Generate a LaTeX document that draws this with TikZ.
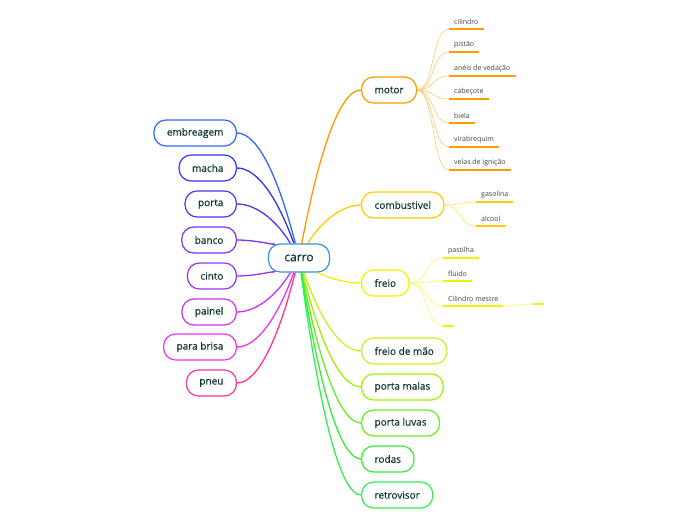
\documentclass[tikz,border=0pt]{standalone}
\usepackage{fontspec}
\setmainfont{Open Sans}
\newfontfamily\topicfont[FakeBold=0.35]{Open Sans}
\usetikzlibrary{calc,backgrounds}

% colours of the map
\definecolor{txtdark}{HTML}{0E3434}
\definecolor{carroblue}{HTML}{3D8FD1}
\definecolor{cmotor}{HTML}{FF9A00}
\definecolor{ccomb}{HTML}{FFCC00}
\definecolor{cfreio}{HTML}{F2F200}
\definecolor{cmao}{HTML}{C8F020}
\definecolor{cmalas}{HTML}{A0F000}
\definecolor{cluvas}{HTML}{66EE22}
\definecolor{crodas}{HTML}{33EE33}
\definecolor{cretro}{HTML}{33EE55}
\definecolor{cembr}{HTML}{3366FF}
\definecolor{cmacha}{HTML}{3333EE}
\definecolor{cporta}{HTML}{5533EE}
\definecolor{cbanco}{HTML}{7733EE}
\definecolor{ccinto}{HTML}{9933EE}
\definecolor{cpainel}{HTML}{CC33EE}
\definecolor{cbrisa}{HTML}{EE33EE}
\definecolor{cpneu}{HTML}{FF3399}

\begin{document}
\begin{tikzpicture}[
        x=1pt, y=-1pt,
        topic/.style={draw, rounded corners=12pt, line width=1.2pt, fill=white, minimum height=26pt, inner xsep=13pt, text=txtdark, font=\topicfont\fontsize{10}{12}\selectfont},
        central/.style={topic, draw=carroblue, rounded corners=12pt, minimum height=28pt, inner xsep=16pt, font=\topicfont\fontsize{12}{14}\selectfont},
        leaf/.style={anchor=south west, inner xsep=5pt, inner ysep=4pt, text=black!75, font=\fontsize{7}{8}\selectfont},
        branch/.style={line width=1.3pt, to path={let \p1=(\tikztostart), \p2=(\tikztotarget) in
            .. controls ({\x1+0.33*(\x2-\x1)},{\y1+0.64*(\y2-\y1)}) and ({\x1+0.66*(\x2-\x1)},\y2) .. (\tikztotarget)}},
        twig/.style={line width=0.6pt, to path={let \p1=(\tikztostart), \p2=(\tikztotarget) in
            .. controls ({\x1+0.55*(\x2-\x1)},\y1) and ({\x1+0.45*(\x2-\x1)},\y2) .. (\tikztotarget)}},
        uline/.style={line width=1.5pt}
    ]
    \useasboundingbox (0,0) rectangle (696,520);

    % central topic
    \node[central] (carro) at (299,258) {carro};

    % right hand topics
    \node[topic, draw=cmotor, anchor=west] (motor) at (361,90) {motor};
    \node[topic, draw=ccomb, anchor=west] (comb) at (361,205) {combustivel};
    \node[topic, draw=cfreio, anchor=west] (freio) at (361,283) {freio};
    \node[topic, draw=cmao, anchor=west] (mao) at (361,351) {freio de mão};
    \node[topic, draw=cmalas, anchor=west] (malas) at (361,387) {porta malas};
    \node[topic, draw=cluvas, anchor=west] (luvas) at (361,423) {porta luvas};
    \node[topic, draw=crodas, anchor=west] (rodas) at (361,459) {rodas};
    \node[topic, draw=cretro, anchor=west] (retro) at (361,495) {retrovisor};

    % left hand topics
    \node[topic, draw=cembr, anchor=east] (embr) at (237,133) {embreagem};
    \node[topic, draw=cmacha, anchor=east] (macha) at (237,168) {macha};
    \node[topic, draw=cporta, anchor=east] (porta) at (237,204) {porta};
    \node[topic, draw=cbanco, anchor=east] (banco) at (237,240) {banco};
    \node[topic, draw=ccinto, anchor=east] (cinto) at (237,276) {cinto};
    \node[topic, draw=cpainel, anchor=east] (painel) at (237,312) {painel};
    \node[topic, draw=cbrisa, anchor=east] (brisa) at (237,347) {para brisa};
    \node[topic, draw=cpneu, anchor=east] (pneu) at (237,383) {pneu};

    % subtopics of motor
    \node[leaf] (cil) at (449,29) {cilindro};
    \node[leaf] (pistao) at (449,52) {pistão};
    \node[leaf] (aneis) at (449,76) {anéis de vedação};
    \node[leaf] (cabec) at (449,99) {cabeçote};
    \node[leaf] (biela) at (449,123) {biela};
    \node[leaf] (vira) at (449,147) {virabrequim};
    \node[leaf] (velas) at (449,170) {velas de ignição};

    % subtopics of combustivel
    \node[leaf] (gas) at (476,202) {gasolina};
    \node[leaf] (alc) at (476,226) {alcool};

    % subtopics of freio
    \node[leaf] (past) at (443,258) {pastilha};
    \node[leaf] (fluido) at (443,281) {fluido};
    \node[leaf] (cmestre) at (443,306) {Cilindro mestre};
    \node[leaf, minimum width=11pt] (vazio) at (443,326) {};
    \node[leaf, minimum width=11pt] (vazio2) at (533,304) {};

    \begin{pgfonlayer}{background}
        % main branches
        \draw[branch, cmotor] (carro) to (motor.west);
        \draw[branch, ccomb] (carro) to (comb.west);
        \draw[branch, cfreio] (carro) to (freio.west);
        \draw[branch, cmao] (carro) to (mao.west);
        \draw[branch, cmalas] (carro) to (malas.west);
        \draw[branch, cluvas] (carro) to (luvas.west);
        \draw[branch, crodas] (carro) to (rodas.west);
        \draw[branch, cretro] (carro) to (retro.west);
        \draw[branch, cembr] (carro) to (embr.east);
        \draw[branch, cmacha] (carro) to (macha.east);
        \draw[branch, cporta] (carro) to (porta.east);
        \draw[branch, cbanco] (carro) to (banco.east);
        \draw[branch, ccinto] (carro) to (cinto.east);
        \draw[branch, cpainel] (carro) to (painel.east);
        \draw[branch, cbrisa] (carro) to (brisa.east);
        \draw[branch, cpneu] (carro) to (pneu.east);
    \end{pgfonlayer}

    % twigs and underlines of motor
    \draw[twig, cmotor!55] (motor.east) to (cil.south west);
    \draw[twig, cmotor!55] (motor.east) to (pistao.south west);
    \draw[twig, cmotor!55] (motor.east) to (aneis.south west);
    \draw[twig, cmotor!55] (motor.east) to (cabec.south west);
    \draw[twig, cmotor!55] (motor.east) to (biela.south west);
    \draw[twig, cmotor!55] (motor.east) to (vira.south west);
    \draw[twig, cmotor!55] (motor.east) to (velas.south west);
    \draw[uline, cmotor] (cil.south west) -- (cil.south east);
    \draw[uline, cmotor] (pistao.south west) -- (pistao.south east);
    \draw[uline, cmotor] (aneis.south west) -- (aneis.south east);
    \draw[uline, cmotor] (cabec.south west) -- (cabec.south east);
    \draw[uline, cmotor] (biela.south west) -- (biela.south east);
    \draw[uline, cmotor] (vira.south west) -- (vira.south east);
    \draw[uline, cmotor] (velas.south west) -- (velas.south east);

    % twigs and underlines of combustivel
    \draw[twig, ccomb!60] (comb.east) to (gas.south west);
    \draw[twig, ccomb!60] (comb.east) to (alc.south west);
    \draw[uline, ccomb] (gas.south west) -- (gas.south east);
    \draw[uline, ccomb] (alc.south west) -- (alc.south east);

    % twigs and underlines of freio
    \draw[twig, cfreio!60] (freio.east) to (past.south west);
    \draw[twig, cfreio!60] (freio.east) to (fluido.south west);
    \draw[twig, cfreio!60] (freio.east) to (cmestre.south west);
    \draw[twig, cfreio!60] (freio.east) to (vazio.south west);
    \draw[twig, cfreio!60] (cmestre.south east) to (vazio2.south west);
    \draw[uline, cfreio] (past.south west) -- (past.south east);
    \draw[uline, cfreio] (fluido.south west) -- (fluido.south east);
    \draw[uline, cfreio] (cmestre.south west) -- (cmestre.south east);
    \draw[uline, cfreio] (vazio.south west) -- (vazio.south east);
    \draw[uline, cfreio] (vazio2.south west) -- (vazio2.south east);
\end{tikzpicture}
\end{document}
